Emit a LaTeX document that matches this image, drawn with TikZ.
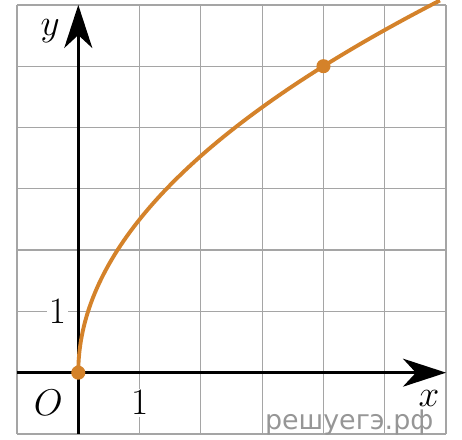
\documentclass[tikz,border=0pt]{standalone}
\usepackage{fontspec}
\newfontfamily\sitofont{DejaVu Sans}
\usetikzlibrary{arrows.meta}
\definecolor{arancio}{RGB}{212,130,42}
\definecolor{grigio}{RGB}{165,165,165}
\definecolor{marchio}{RGB}{150,150,150}
\begin{document}
\begin{tikzpicture}[
    reticolo/.style={draw=grigio, line width=0.55pt},
    asse/.style={line width=1.4pt, -{Stealth[length=20pt,width=13pt,inset=6pt]}},
    etichetta/.style={font=\fontsize{18}{20}\selectfont, inner sep=1pt},
    curva/.style={draw=arancio, line width=1.8pt},
    punto/.style={circle, fill=arancio, inner sep=0pt, minimum size=0.23cm},
    sito/.style={font=\sitofont\fontsize{12.5}{14}\selectfont, text=marchio}
]
    \useasboundingbox (-1.277,-1.098) rectangle (6.26,6.08);
    %griglia
        \draw[reticolo] (-1,-1) grid (6,6);
    %etichette
        \node[etichetta, fill=white] (uno y) at (-0.34,1) {$1$};
        \node[etichetta, fill=white] (uno x) at (1,-0.49) {$1$};
        \node[etichetta] (O) at (-0.49,-0.49) {$O$};
        \node[etichetta] (lab x) at (5.72,-0.42) {$x$};
        \node[etichetta] (lab y) at (-0.46,5.58) {$y$};
    %assi
        \coordinate (x0) at (-1,0);
        \coordinate (x1) at (6,0);
        \coordinate (y0) at (0,-1);
        \coordinate (y1) at (0,6);
        \draw[asse] (x0) -- (x1);
        \draw[asse] (y0) -- (y1);
    %grafico
        \draw[curva] plot[domain=0:2.43, samples=80, variable=\t] ({\t*\t},{2.5*\t});
        \node[punto] (A) at (0,0) {};
        \node[punto] (B) at (4,5) {};
    %marchio
        \node[sito] (web) at (4.42,-0.82) {решуегэ.рф};
\end{tikzpicture}
\end{document}
